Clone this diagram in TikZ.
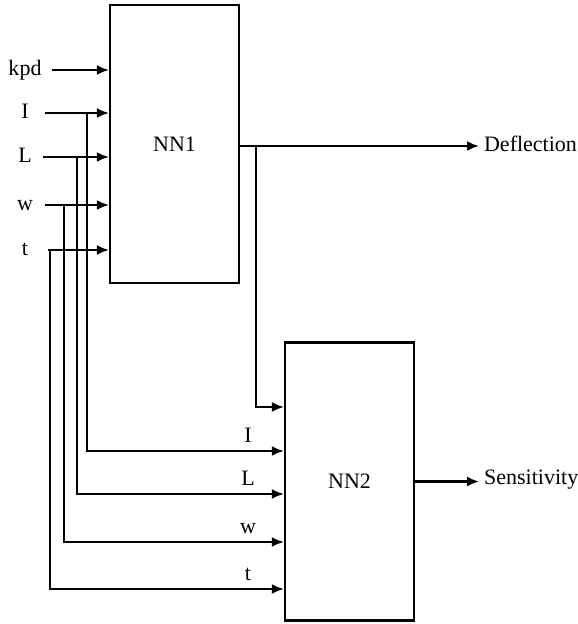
\documentclass[tikz,border=0pt]{standalone}
\usepackage{fontspec}
\setmainfont{Liberation Serif}
\usetikzlibrary{arrows.meta}

\tikzset{
  nnbox/.style={draw,minimum width=64.5pt,minimum height=139pt,inner sep=0pt},
  sig/.style={inner sep=0pt,anchor=base}
}

\begin{document}
\begin{tikzpicture}[x=0.5pt,y=-0.5pt,>={Latex[length=6pt,width=5pt]},
  line width=1.1pt,font=\fontsize{11}{13}\selectfont]
  \useasboundingbox (0,0) rectangle (577,624);
  % the two networks
  \node[nnbox] (NN1) at (174.5,144) {NN1};
  \node[nnbox] (NN2) at (349.5,481.5) {NN2};
  % kpd goes to NN1 only
  \node[sig] (inkpd) at (25,76) {kpd};
  \coordinate (skpd) at (52,70);
  \draw[->] (skpd) -- (skpd -| NN1.west);
  % the other inputs feed both networks
  \foreach \s/\y/\xs/\xj/\yl in {I/113/45/87/451,L/157/43/77/494,w/205/45/64/542,t/250/48/50/589}{
    \node[sig] (in\s) at (25,\y+6) {\s};
    \coordinate (s\s) at (\xs,\y);
    \coordinate (j\s) at (\xj,\y);
    \coordinate (m\s) at (0,\yl);
    \draw[->] (s\s) -- (s\s -| NN1.west);
    \draw[->] (j\s) |- (m\s -| NN2.west);
    \node[sig] (l\s) at (248,\yl-9) {\s};
  }
  % outputs
  \coordinate (jD) at (256,146);
  \coordinate (mD) at (0,407);
  \node[sig,anchor=base west] (defl) at (483,152) {Deflection};
  \draw[->] (NN1.east |- jD) -- ([xshift=-2pt]defl.west |- jD);
  \draw[->] (jD) |- (mD -| NN2.west);
  \node[sig,anchor=west] (sens) at (483,480) {Sensitivity};
  \draw[->] (NN2.east) -- ([xshift=-2pt]NN2.east -| sens.west);
\end{tikzpicture}
\end{document}
